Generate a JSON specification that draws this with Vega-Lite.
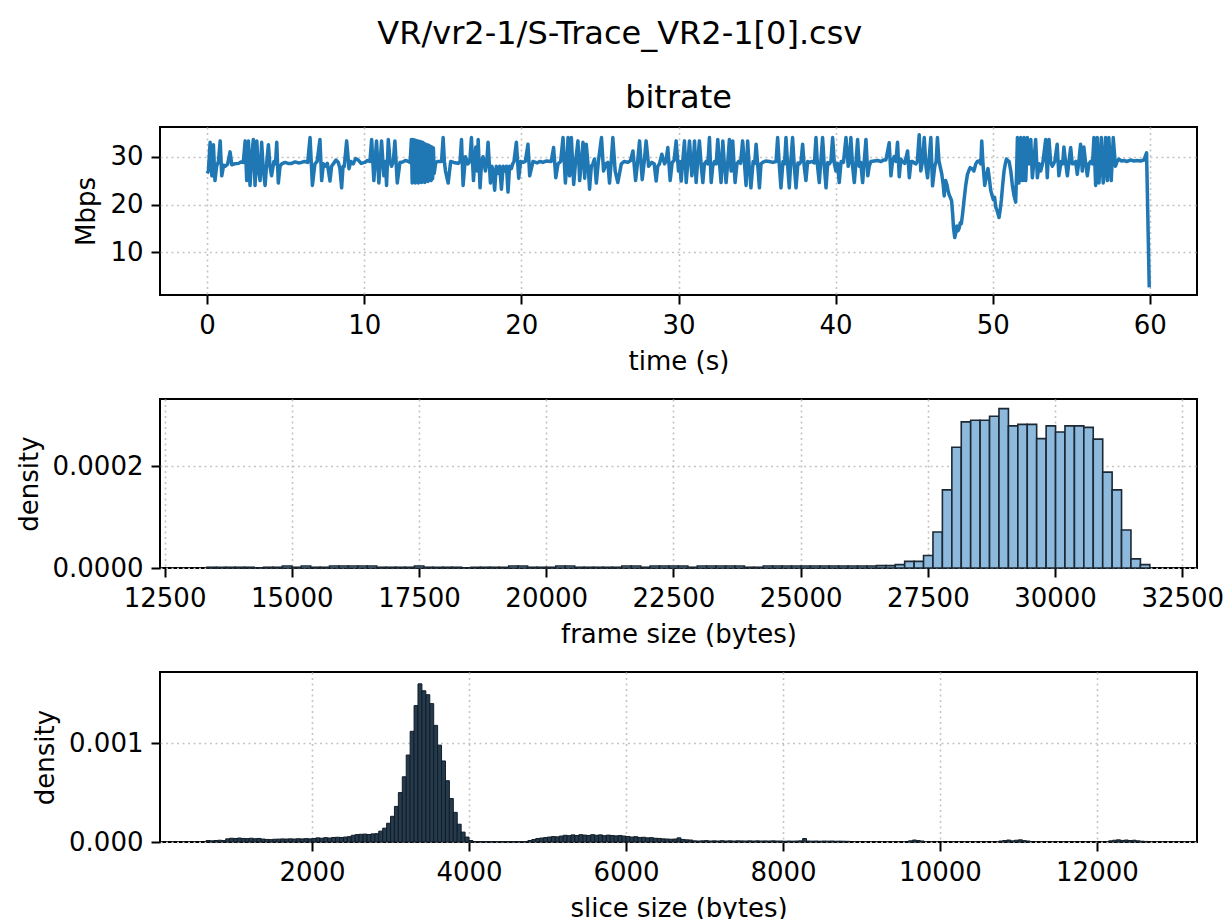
{
 "$schema": "https://vega.github.io/schema/vega-lite/v6.json",
 "title": {"text": "VR/vr2-1/S-Trace_VR2-1[0].csv", "anchor": "middle", "fontSize": 32, "offset": 30},
 "padding": {"left": 15, "top": 18, "right": 23, "bottom": 5},
 "bounds": "flush",
 "spacing": 104,
 "config": {
  "font": "DejaVu Sans",
  "view": {"stroke": "#000", "strokeWidth": 2},
  "axis": {"domain": false, "grid": true, "gridColor": "#c4c4c4", "gridDash": [2, 3.5], "gridWidth": 1.6, "tickColor": "#000", "tickSize": 9, "tickWidth": 2, "labelFont": "DejaVu Sans", "labelFontSize": 26, "labelColor": "#000", "labelPadding": 8, "titleFont": "DejaVu Sans", "titleFontSize": 26, "titleFontWeight": "normal", "titleColor": "#000", "titlePadding": 10, "labelOverlap": false, "labelFlush": false, "labelBound": false},
  "title": {"font": "DejaVu Sans", "fontSize": 32, "fontWeight": "normal", "color": "#000"}
 },
 "datasets": {
  "bitrate": [
   {"t":0,"v":26.5},{"t":0.08,"v":27},{"t":0.19,"v":33},{"t":0.3,"v":26},{"t":0.4,"v":32.5},{"t":0.5,"v":25},{"t":0.6,"v":28},{"t":0.72,"v":29},{"t":0.83,"v":33.3},{"t":0.93,"v":26},{"t":1.05,"v":28.2},{"t":1.14,"v":28},{"t":1.3,"v":28.4},{"t":1.46,"v":31},{"t":1.57,"v":28.3},{"t":1.75,"v":28.5},{"t":2.0,"v":28.6},{"t":2.15,"v":28.9},{"t":2.3,"v":28.8},{"t":2.42,"v":33.3},{"t":2.52,"v":25},{"t":2.63,"v":33.3},{"t":2.73,"v":24},{"t":2.84,"v":30},{"t":2.94,"v":33.6},{"t":3.05,"v":24},{"t":3.16,"v":33.3},{"t":3.27,"v":27},{"t":3.37,"v":25},{"t":3.47,"v":33},{"t":3.58,"v":27},{"t":3.69,"v":24},{"t":3.8,"v":29},{"t":3.9,"v":32.5},{"t":4.0,"v":28},{"t":4.1,"v":26},{"t":4.25,"v":29},{"t":4.35,"v":28.5},{"t":4.43,"v":33},{"t":4.53,"v":24.5},{"t":4.64,"v":28},{"t":4.75,"v":28.5},{"t":4.96,"v":28.8},{"t":5.15,"v":28.6},{"t":5.38,"v":28.6},{"t":5.6,"v":28.9},{"t":5.8,"v":28.7},{"t":6.0,"v":28.8},{"t":6.2,"v":29},{"t":6.4,"v":28.8},{"t":6.55,"v":34},{"t":6.7,"v":24},{"t":6.86,"v":28.5},{"t":7.0,"v":29},{"t":7.18,"v":33.6},{"t":7.29,"v":25},{"t":7.4,"v":28.5},{"t":7.5,"v":28},{"t":7.65,"v":28.6},{"t":7.82,"v":24.9},{"t":7.92,"v":28},{"t":8.03,"v":28.5},{"t":8.2,"v":29.3},{"t":8.35,"v":28.8},{"t":8.45,"v":27.5},{"t":8.56,"v":23.5},{"t":8.65,"v":28},{"t":8.73,"v":28},{"t":8.88,"v":33.3},{"t":9.03,"v":27.5},{"t":9.15,"v":29},{"t":9.3,"v":28.5},{"t":9.45,"v":29.6},{"t":9.62,"v":29.3},{"t":9.8,"v":28.6},{"t":10.04,"v":28.8},{"t":10.2,"v":29.2},{"t":10.36,"v":29},{"t":10.47,"v":33.6},{"t":10.61,"v":25},{"t":10.78,"v":33.3},{"t":10.93,"v":24.5},{"t":11.02,"v":29},{"t":11.1,"v":33.3},{"t":11.25,"v":26},{"t":11.35,"v":29},{"t":11.42,"v":24},{"t":11.53,"v":33.6},{"t":11.64,"v":29},{"t":11.74,"v":28},{"t":11.85,"v":29},{"t":11.95,"v":33.3},{"t":12.1,"v":24.5},{"t":12.27,"v":28.8},{"t":12.45,"v":28.9},{"t":12.62,"v":29.2},{"t":12.8,"v":29},{"t":12.92,"v":28.8},
   {"t":13.0,"v":33.6},{"t":13.05,"v":24.5},{"t":13.1,"v":33.6},{"t":13.15,"v":24.8},{"t":13.2,"v":33.5},{"t":13.25,"v":24.5},{"t":13.3,"v":33.4},{"t":13.35,"v":24.8},{"t":13.4,"v":33.3},{"t":13.45,"v":24.5},{"t":13.5,"v":33.2},{"t":13.55,"v":24.7},{"t":13.6,"v":33.1},{"t":13.65,"v":24.6},{"t":13.7,"v":33.0},{"t":13.75,"v":24.8},{"t":13.8,"v":32.8},{"t":13.85,"v":24.6},{"t":13.9,"v":32.6},{"t":13.95,"v":25.0},{"t":14.0,"v":32.5},{"t":14.05,"v":24.8},{"t":14.1,"v":32.4},{"t":14.15,"v":25.2},{"t":14.2,"v":32.2},{"t":14.25,"v":25.0},{"t":14.3,"v":32.0},{"t":14.35,"v":25.4},{"t":14.4,"v":31.8},{"t":14.45,"v":26.5},{"t":14.55,"v":28.8},
   {"t":14.7,"v":29},{"t":14.92,"v":29},{"t":15.02,"v":34},{"t":15.1,"v":29},{"t":15.17,"v":27},{"t":15.34,"v":24.5},{"t":15.5,"v":29},{"t":15.7,"v":28.8},{"t":15.97,"v":28.6},{"t":16.1,"v":29},{"t":16.19,"v":33.6},{"t":16.29,"v":24},{"t":16.44,"v":30},{"t":16.6,"v":28.5},{"t":16.72,"v":29},{"t":16.82,"v":34},{"t":16.95,"v":25},{"t":17.1,"v":32},{"t":17.2,"v":27},{"t":17.25,"v":33.6},{"t":17.37,"v":23.5},{"t":17.47,"v":29},{"t":17.56,"v":30},{"t":17.71,"v":27},{"t":17.8,"v":29},{"t":17.88,"v":33},{"t":18.03,"v":24.5},{"t":18.12,"v":28},{"t":18.2,"v":27},{"t":18.3,"v":23},{"t":18.4,"v":28},{"t":18.5,"v":26.5},{"t":18.62,"v":28},{"t":18.73,"v":23.2},{"t":18.84,"v":28},{"t":18.94,"v":27},{"t":19.05,"v":28},{"t":19.15,"v":22.6},{"t":19.25,"v":28},{"t":19.36,"v":27.5},{"t":19.45,"v":28.5},{"t":19.53,"v":29},{"t":19.68,"v":33},{"t":19.83,"v":25.5},{"t":19.95,"v":29},{"t":20.1,"v":28.8},{"t":20.25,"v":29},{"t":20.42,"v":32.6},{"t":20.53,"v":26},{"t":20.74,"v":29},{"t":21.0,"v":28.7},{"t":21.2,"v":29},{"t":21.37,"v":28.8},{"t":21.6,"v":29.1},{"t":21.9,"v":29},{"t":22.05,"v":31.9},{"t":22.19,"v":25.6},{"t":22.33,"v":28.5},{"t":22.5,"v":29},{"t":22.65,"v":34},{"t":22.8,"v":24.5},{"t":22.9,"v":29},{"t":22.97,"v":34},{"t":23.07,"v":26},{"t":23.18,"v":34},{"t":23.33,"v":24.2},{"t":23.45,"v":29},{"t":23.6,"v":33.3},{"t":23.71,"v":25},{"t":23.82,"v":29},{"t":23.92,"v":33},{"t":24.03,"v":25.5},{"t":24.13,"v":32.6},{"t":24.25,"v":28},{"t":24.34,"v":23.2},{"t":24.45,"v":28},{"t":24.55,"v":28.5},{"t":24.65,"v":29.5},{"t":24.77,"v":24.5},{"t":24.9,"v":29},{"t":25.1,"v":34},{"t":25.23,"v":27},{"t":25.4,"v":28.6},{"t":25.5,"v":28.8},{"t":25.61,"v":24.5},{"t":25.72,"v":29},{"t":25.82,"v":34},{"t":25.97,"v":27},{"t":26.14,"v":24.6},{"t":26.36,"v":28.5},{"t":26.55,"v":29},{"t":26.78,"v":28.8},{"t":26.95,"v":29.2},{"t":27.1,"v":31.2},{"t":27.27,"v":25},{"t":27.4,"v":29},{"t":27.52,"v":33.3},{"t":27.69,"v":25.2},{"t":27.82,"v":29},{"t":27.94,"v":33.3},{"t":28.1,"v":28},{"t":28.3,"v":28.8},{"t":28.45,"v":28.5},{"t":28.58,"v":24.9},{"t":28.68,"v":28},{"t":28.79,"v":28.5},{"t":28.94,"v":30.5},{"t":29.11,"v":28.5},{"t":29.2,"v":29},{"t":29.32,"v":31.9},{"t":29.47,"v":25},{"t":29.6,"v":28.8},{"t":29.72,"v":29.2},{"t":29.85,"v":33.3},{"t":30.0,"v":27},{"t":30.08,"v":29},{"t":30.17,"v":24.9},{"t":30.27,"v":29},{"t":30.38,"v":33.3},{"t":30.49,"v":24.6},{"t":30.6,"v":29},{"t":30.7,"v":33.3},{"t":30.85,"v":26},{"t":30.95,"v":29},{"t":31.02,"v":33.3},{"t":31.12,"v":24.6},{"t":31.22,"v":29},{"t":31.33,"v":33.3},{"t":31.45,"v":28},{"t":31.55,"v":24.6},{"t":31.65,"v":28.5},{"t":31.76,"v":29},{"t":31.87,"v":28.5},{"t":31.97,"v":34},{"t":32.08,"v":24.6},{"t":32.18,"v":28},{"t":32.29,"v":29},{"t":32.4,"v":28.5},{"t":32.5,"v":33.6},{"t":32.6,"v":29},{"t":32.71,"v":24.6},{"t":32.82,"v":33.3},{"t":32.93,"v":28},{"t":33.03,"v":24.6},{"t":33.14,"v":29},{"t":33.24,"v":33.6},{"t":33.35,"v":27},{"t":33.45,"v":33.3},{"t":33.6,"v":24.6},{"t":33.72,"v":28.5},{"t":33.83,"v":29},{"t":33.95,"v":28.6},{"t":34.08,"v":33.3},{"t":34.2,"v":28.5},{"t":34.3,"v":24},{"t":34.4,"v":33.3},{"t":34.5,"v":28},{"t":34.61,"v":23.5},{"t":34.75,"v":29},{"t":34.85,"v":28.6},{"t":34.94,"v":32.6},{"t":35.05,"v":28},{"t":35.15,"v":23.5},{"t":35.25,"v":28.5},{"t":35.36,"v":28.8},{"t":35.55,"v":29.1},{"t":35.78,"v":29},{"t":36.0,"v":28.8},{"t":36.21,"v":29},{"t":36.31,"v":34},{"t":36.42,"v":28},{"t":36.52,"v":23.5},{"t":36.65,"v":29},{"t":36.75,"v":28.5},{"t":36.84,"v":34},{"t":36.95,"v":28},{"t":37.05,"v":23.5},{"t":37.15,"v":29},{"t":37.26,"v":34},{"t":37.37,"v":28},{"t":37.48,"v":23.5},{"t":37.6,"v":28.7},{"t":37.69,"v":28.5},{"t":37.8,"v":29},{"t":37.9,"v":32.6},{"t":38.0,"v":28},{"t":38.11,"v":25},{"t":38.22,"v":29},{"t":38.33,"v":28.8},{"t":38.5,"v":29},{"t":38.65,"v":28.7},{"t":38.75,"v":34},{"t":38.85,"v":28},{"t":38.96,"v":24.6},{"t":39.06,"v":29},{"t":39.17,"v":34},{"t":39.28,"v":28},{"t":39.39,"v":23.5},{"t":39.5,"v":28.8},{"t":39.6,"v":28.5},{"t":39.7,"v":29},{"t":39.81,"v":34},{"t":39.92,"v":28.5},{"t":40.02,"v":27},{"t":40.12,"v":28.6},{"t":40.23,"v":24.6},{"t":40.35,"v":29},{"t":40.5,"v":28.8},{"t":40.66,"v":34},{"t":40.8,"v":28},{"t":40.88,"v":29},{"t":40.97,"v":34},{"t":41.08,"v":28},{"t":41.19,"v":24.6},{"t":41.3,"v":29},{"t":41.4,"v":33.6},{"t":41.5,"v":28},{"t":41.6,"v":28.8},{"t":41.72,"v":24.6},{"t":41.82,"v":29},{"t":41.93,"v":33.6},{"t":42.05,"v":26},{"t":42.14,"v":28},{"t":42.25,"v":29},{"t":42.45,"v":29.1},{"t":42.67,"v":29.2},{"t":42.9,"v":29},{"t":43.05,"v":29.3},{"t":43.2,"v":29.3},{"t":43.41,"v":32.9},{"t":43.52,"v":26},{"t":43.62,"v":29},{"t":43.73,"v":30},{"t":43.84,"v":29},{"t":43.94,"v":33},{"t":44.05,"v":25.8},{"t":44.15,"v":29.5},{"t":44.26,"v":29},{"t":44.4,"v":28.6},{"t":44.58,"v":31.2},{"t":44.69,"v":25.6},{"t":44.8,"v":29},{"t":44.9,"v":29},{"t":45.0,"v":28.7},{"t":45.11,"v":28.5},{"t":45.2,"v":29},{"t":45.32,"v":34.6},{"t":45.42,"v":27},{"t":45.53,"v":29},{"t":45.64,"v":34},{"t":45.75,"v":28},{"t":45.85,"v":25.6},{"t":45.95,"v":29.5},{"t":46.06,"v":34},{"t":46.17,"v":23.9},{"t":46.31,"v":28},{"t":46.4,"v":29},{"t":46.48,"v":34},{"t":46.58,"v":29},{"t":46.65,"v":28},{"t":46.76,"v":26.3},{"t":46.85,"v":24},{"t":46.91,"v":21.8},{"t":47.0,"v":25},{"t":47.08,"v":24.2},{"t":47.15,"v":23},{"t":47.23,"v":22},{"t":47.3,"v":21.5},{"t":47.38,"v":20.8},{"t":47.45,"v":18},{"t":47.5,"v":15.2},{"t":47.58,"v":13.1},{"t":47.64,"v":14},{"t":47.71,"v":15.5},{"t":47.78,"v":14.5},{"t":47.86,"v":15},{"t":47.93,"v":16.2},{"t":48.0,"v":16},{"t":48.08,"v":18},{"t":48.17,"v":20.8},{"t":48.28,"v":24},{"t":48.39,"v":26.3},{"t":48.47,"v":27},{"t":48.56,"v":27.7},{"t":48.63,"v":27.5},{"t":48.71,"v":27.5},{"t":48.8,"v":27},{"t":48.92,"v":28.5},{"t":49.02,"v":29},{"t":49.13,"v":29.1},{"t":49.24,"v":28.5},{"t":49.3,"v":33.3},{"t":49.38,"v":28.5},{"t":49.49,"v":24},{"t":49.6,"v":26},{"t":49.7,"v":27.5},{"t":49.8,"v":25},{"t":49.87,"v":23},{"t":49.95,"v":22},{"t":50.04,"v":21},{"t":50.12,"v":21.5},{"t":50.19,"v":19.5},{"t":50.3,"v":18.5},{"t":50.4,"v":17.3},{"t":50.48,"v":19},{"t":50.55,"v":21},{"t":50.63,"v":24},{"t":50.72,"v":27},{"t":50.8,"v":28.5},{"t":50.87,"v":29.5},{"t":50.95,"v":29.2},{"t":51.04,"v":29},{"t":51.15,"v":27},{"t":51.25,"v":24},{"t":51.35,"v":22},{"t":51.46,"v":20.5},{"t":51.52,"v":27},{"t":51.57,"v":34},{"t":51.62,"v":28},{"t":51.67,"v":24.5},{"t":51.72,"v":29},{"t":51.78,"v":34},{"t":51.83,"v":28},{"t":51.89,"v":25},{"t":51.94,"v":29},{"t":51.99,"v":34},{"t":52.05,"v":28},{"t":52.1,"v":25},{"t":52.15,"v":29},{"t":52.2,"v":34},{"t":52.3,"v":28.5},{"t":52.42,"v":33.6},{"t":52.52,"v":25.6},{"t":52.62,"v":29},{"t":52.73,"v":33.6},{"t":52.84,"v":25.6},{"t":52.95,"v":28.5},{"t":53.05,"v":27},{"t":53.2,"v":29},{"t":53.37,"v":33.6},{"t":53.47,"v":25.6},{"t":53.52,"v":29},{"t":53.58,"v":33.6},{"t":53.68,"v":29},{"t":53.79,"v":28},{"t":53.95,"v":29},{"t":54.1,"v":32.6},{"t":54.21,"v":26},{"t":54.35,"v":29},{"t":54.45,"v":28.5},{"t":54.53,"v":32},{"t":54.65,"v":28.5},{"t":54.75,"v":26},{"t":54.85,"v":29},{"t":54.96,"v":31.9},{"t":55.06,"v":28.5},{"t":55.17,"v":28.5},{"t":55.28,"v":29},{"t":55.38,"v":26.3},{"t":55.48,"v":29},{"t":55.59,"v":32.6},{"t":55.7,"v":27},{"t":55.8,"v":32},{"t":55.9,"v":29},{"t":56.02,"v":26},{"t":56.12,"v":28.5},{"t":56.23,"v":29},{"t":56.35,"v":28.5},{"t":56.44,"v":34},{"t":56.55,"v":24},{"t":56.65,"v":34},{"t":56.76,"v":24.5},{"t":56.85,"v":29},{"t":56.91,"v":34},{"t":57.03,"v":24.5},{"t":57.12,"v":29},{"t":57.18,"v":34},{"t":57.29,"v":25},{"t":57.35,"v":29},{"t":57.39,"v":34},{"t":57.54,"v":25},{"t":57.6,"v":29},{"t":57.67,"v":34},{"t":57.81,"v":28},{"t":57.92,"v":29},{"t":58.03,"v":29.5},{"t":58.2,"v":29.1},{"t":58.35,"v":29.2},{"t":58.55,"v":29},{"t":58.77,"v":29.3},{"t":59.0,"v":29.1},{"t":59.19,"v":29.2},{"t":59.4,"v":29.1},{"t":59.62,"v":29.3},{"t":59.79,"v":30.8},{"t":59.96,"v":2.7}
  ],
  "frame": [
   {"s":13333,"e":13518,"d":1.5e-6},{"s":13518,"e":13704,"d":1.5e-6},{"s":13704,"e":13889,"d":1.5e-6},{"s":13889,"e":14074,"d":1.5e-6},{"s":14074,"e":14260,"d":1.5e-6},{"s":14260,"e":14445,"d":0},{"s":14445,"e":14630,"d":1.5e-6},{"s":14630,"e":14815,"d":1.5e-6},{"s":14815,"e":15001,"d":4e-6},{"s":15001,"e":15186,"d":1.5e-6},{"s":15186,"e":15371,"d":4e-6},{"s":15371,"e":15557,"d":1.5e-6},{"s":15557,"e":15742,"d":1.5e-6},{"s":15742,"e":15927,"d":4e-6},{"s":15927,"e":16113,"d":4e-6},{"s":16113,"e":16298,"d":4e-6},{"s":16298,"e":16483,"d":4e-6},{"s":16483,"e":16668,"d":4e-6},{"s":16668,"e":16854,"d":1.5e-6},{"s":16854,"e":17039,"d":1.5e-6},{"s":17039,"e":17224,"d":1.5e-6},{"s":17224,"e":17410,"d":1.5e-6},{"s":17410,"e":17595,"d":4e-6},{"s":17595,"e":17780,"d":1.5e-6},{"s":17780,"e":17966,"d":1.5e-6},{"s":17966,"e":18151,"d":1.5e-6},{"s":18151,"e":18336,"d":1.5e-6},{"s":18336,"e":18521,"d":0},{"s":18521,"e":18707,"d":1.5e-6},{"s":18707,"e":18892,"d":1.5e-6},{"s":18892,"e":19077,"d":1.5e-6},{"s":19077,"e":19263,"d":1.5e-6},{"s":19263,"e":19448,"d":4e-6},{"s":19448,"e":19633,"d":4e-6},{"s":19633,"e":19819,"d":1.5e-6},{"s":19819,"e":20004,"d":1.5e-6},{"s":20004,"e":20189,"d":1.5e-6},{"s":20189,"e":20374,"d":4e-6},{"s":20374,"e":20560,"d":4e-6},{"s":20560,"e":20745,"d":1.5e-6},{"s":20745,"e":20930,"d":1.5e-6},{"s":20930,"e":21116,"d":1.5e-6},{"s":21116,"e":21301,"d":1.5e-6},{"s":21301,"e":21486,"d":1.5e-6},{"s":21486,"e":21672,"d":4e-6},{"s":21672,"e":21857,"d":4e-6},{"s":21857,"e":22042,"d":1.5e-6},{"s":22042,"e":22227,"d":4e-6},{"s":22227,"e":22413,"d":4e-6},{"s":22413,"e":22598,"d":4e-6},{"s":22598,"e":22783,"d":4e-6},{"s":22783,"e":22969,"d":1.5e-6},{"s":22969,"e":23154,"d":4e-6},{"s":23154,"e":23339,"d":4e-6},{"s":23339,"e":23525,"d":4e-6},{"s":23525,"e":23710,"d":4e-6},{"s":23710,"e":23895,"d":4e-6},{"s":23895,"e":24080,"d":1.5e-6},{"s":24080,"e":24266,"d":1.5e-6},{"s":24266,"e":24451,"d":4e-6},{"s":24451,"e":24636,"d":4e-6},{"s":24636,"e":24822,"d":4e-6},{"s":24822,"e":25007,"d":4e-6},{"s":25007,"e":25192,"d":4e-6},{"s":25192,"e":25378,"d":4e-6},{"s":25378,"e":25563,"d":4e-6},{"s":25563,"e":25748,"d":4e-6},{"s":25748,"e":25933,"d":4e-6},{"s":25933,"e":26119,"d":4e-6},{"s":26119,"e":26304,"d":4e-6},{"s":26304,"e":26489,"d":4e-6},{"s":26489,"e":26675,"d":4.6e-6},{"s":26675,"e":26860,"d":4.6e-6},{"s":26860,"e":27045,"d":6.6e-6},{"s":27045,"e":27231,"d":1.3e-5},{"s":27231,"e":27416,"d":1.3e-5},{"s":27416,"e":27601,"d":2.45e-5},{"s":27601,"e":27786,"d":7.1e-5},{"s":27786,"e":27972,"d":1.54e-4},{"s":27972,"e":28157,"d":2.38e-4},{"s":28157,"e":28342,"d":2.88e-4},{"s":28342,"e":28528,"d":2.91e-4},{"s":28528,"e":28713,"d":2.91e-4},{"s":28713,"e":28898,"d":2.99e-4},{"s":28898,"e":29084,"d":3.14e-4},{"s":29084,"e":29269,"d":2.8e-4},{"s":29269,"e":29454,"d":2.83e-4},{"s":29454,"e":29639,"d":2.83e-4},{"s":29639,"e":29825,"d":2.55e-4},{"s":29825,"e":30010,"d":2.8e-4},{"s":30010,"e":30195,"d":2.68e-4},{"s":30195,"e":30381,"d":2.8e-4},{"s":30381,"e":30566,"d":2.8e-4},{"s":30566,"e":30751,"d":2.77e-4},{"s":30751,"e":30937,"d":2.54e-4},{"s":30937,"e":31122,"d":1.89e-4},{"s":31122,"e":31307,"d":1.54e-4},{"s":31307,"e":31492,"d":7.5e-5},{"s":31492,"e":31678,"d":1.8e-5},{"s":31678,"e":31863,"d":6.6e-6}
  ],
  "slice": [
   {"s":650,"e":700,"d":1.5e-5},{"s":700,"e":750,"d":1.2e-5},{"s":750,"e":800,"d":1.5e-5},{"s":800,"e":850,"d":1.8e-5},{"s":850,"e":900,"d":1.5e-5},{"s":900,"e":950,"d":3.2e-5},{"s":950,"e":1000,"d":3.8e-5},{"s":1000,"e":1050,"d":3.5e-5},{"s":1050,"e":1100,"d":4.0e-5},{"s":1100,"e":1150,"d":3.6e-5},{"s":1150,"e":1200,"d":3.4e-5},{"s":1200,"e":1250,"d":3.8e-5},{"s":1250,"e":1300,"d":3.3e-5},{"s":1300,"e":1350,"d":3.6e-5},{"s":1350,"e":1400,"d":3.0e-5},{"s":1400,"e":1450,"d":2.6e-5},{"s":1450,"e":1500,"d":2.4e-5},{"s":1500,"e":1550,"d":2.8e-5},{"s":1550,"e":1600,"d":2.9e-5},{"s":1600,"e":1650,"d":3.1e-5},{"s":1650,"e":1700,"d":3.0e-5},{"s":1700,"e":1750,"d":3.2e-5},{"s":1750,"e":1800,"d":3.0e-5},{"s":1800,"e":1850,"d":3.3e-5},{"s":1850,"e":1900,"d":3.1e-5},{"s":1900,"e":1950,"d":3.4e-5},{"s":1950,"e":2000,"d":3.2e-5},{"s":2000,"e":2050,"d":3.6e-5},{"s":2050,"e":2100,"d":4.2e-5},{"s":2100,"e":2150,"d":3.8e-5},{"s":2150,"e":2200,"d":4.4e-5},{"s":2200,"e":2250,"d":4.0e-5},{"s":2250,"e":2300,"d":4.6e-5},{"s":2300,"e":2350,"d":4.8e-5},{"s":2350,"e":2400,"d":4.5e-5},{"s":2400,"e":2450,"d":5.0e-5},{"s":2450,"e":2500,"d":5.4e-5},{"s":2500,"e":2550,"d":6.8e-5},{"s":2550,"e":2600,"d":7.5e-5},{"s":2600,"e":2650,"d":7.8e-5},{"s":2650,"e":2700,"d":8.0e-5},{"s":2700,"e":2750,"d":7.6e-5},{"s":2750,"e":2800,"d":8.2e-5},{"s":2800,"e":2850,"d":8.4e-5},{"s":2850,"e":2900,"d":1.1e-4},{"s":2900,"e":2950,"d":1.4e-4},{"s":2950,"e":3000,"d":1.9e-4},{"s":3000,"e":3050,"d":2.6e-4},{"s":3050,"e":3100,"d":3.6e-4},{"s":3100,"e":3150,"d":5.0e-4},{"s":3150,"e":3200,"d":6.6e-4},{"s":3200,"e":3250,"d":8.8e-4},{"s":3250,"e":3300,"d":1.12e-3},{"s":3300,"e":3350,"d":1.38e-3},{"s":3350,"e":3400,"d":1.6e-3},{"s":3400,"e":3450,"d":1.53e-3},{"s":3450,"e":3500,"d":1.49e-3},{"s":3500,"e":3550,"d":1.4e-3},{"s":3550,"e":3600,"d":1.18e-3},{"s":3600,"e":3650,"d":9.8e-4},{"s":3650,"e":3700,"d":8.2e-4},{"s":3700,"e":3750,"d":6.2e-4},{"s":3750,"e":3800,"d":4.4e-4},{"s":3800,"e":3850,"d":3.0e-4},{"s":3850,"e":3900,"d":1.8e-4},{"s":3900,"e":3950,"d":1.0e-4},{"s":3950,"e":4000,"d":5.0e-5},{"s":4000,"e":4050,"d":1.5e-5},
   {"s":4050,"e":4100,"d":4e-6},{"s":4100,"e":4150,"d":4e-6},{"s":4150,"e":4200,"d":4e-6},{"s":4200,"e":4250,"d":4e-6},{"s":4250,"e":4300,"d":4e-6},{"s":4300,"e":4350,"d":4e-6},{"s":4350,"e":4400,"d":4e-6},{"s":4400,"e":4450,"d":4e-6},{"s":4450,"e":4500,"d":4e-6},{"s":4500,"e":4550,"d":4e-6},{"s":4550,"e":4600,"d":4e-6},{"s":4600,"e":4650,"d":4e-6},{"s":4650,"e":4700,"d":4e-6},{"s":4700,"e":4750,"d":4e-6},
   {"s":4750,"e":4800,"d":1.5e-5},{"s":4800,"e":4850,"d":2.5e-5},{"s":4850,"e":4900,"d":3.5e-5},{"s":4900,"e":4950,"d":4.0e-5},{"s":4950,"e":5000,"d":4.5e-5},{"s":5000,"e":5050,"d":5.0e-5},{"s":5050,"e":5100,"d":5.5e-5},{"s":5100,"e":5150,"d":5.2e-5},{"s":5150,"e":5200,"d":6.0e-5},{"s":5200,"e":5250,"d":6.8e-5},{"s":5250,"e":5300,"d":6.4e-5},{"s":5300,"e":5350,"d":7.2e-5},{"s":5350,"e":5400,"d":6.6e-5},{"s":5400,"e":5450,"d":7.4e-5},{"s":5450,"e":5500,"d":7.0e-5},{"s":5500,"e":5550,"d":6.6e-5},{"s":5550,"e":5600,"d":7.4e-5},{"s":5600,"e":5650,"d":6.8e-5},{"s":5650,"e":5700,"d":7.2e-5},{"s":5700,"e":5750,"d":6.4e-5},{"s":5750,"e":5800,"d":7.0e-5},{"s":5800,"e":5850,"d":6.6e-5},{"s":5850,"e":5900,"d":6.2e-5},{"s":5900,"e":5950,"d":6.6e-5},{"s":5950,"e":6000,"d":6.0e-5},{"s":6000,"e":6050,"d":5.6e-5},{"s":6050,"e":6100,"d":5.0e-5},{"s":6100,"e":6150,"d":5.4e-5},{"s":6150,"e":6200,"d":4.6e-5},{"s":6200,"e":6250,"d":4.8e-5},{"s":6250,"e":6300,"d":4.2e-5},{"s":6300,"e":6350,"d":4.4e-5},{"s":6350,"e":6400,"d":3.8e-5},{"s":6400,"e":6450,"d":3.6e-5},{"s":6450,"e":6500,"d":3.2e-5},{"s":6500,"e":6550,"d":3.0e-5},{"s":6550,"e":6600,"d":2.8e-5},{"s":6600,"e":6650,"d":3.0e-5},{"s":6650,"e":6700,"d":4.2e-5},{"s":6700,"e":6750,"d":2.6e-5},{"s":6750,"e":6800,"d":2.2e-5},{"s":6800,"e":6850,"d":2.0e-5},
   {"s":6850,"e":6900,"d":1.2e-5},{"s":6900,"e":6950,"d":1.0e-5},{"s":6950,"e":7000,"d":1.2e-5},{"s":7000,"e":7050,"d":1.4e-5},{"s":7050,"e":7100,"d":1.0e-5},{"s":7100,"e":7150,"d":1.2e-5},{"s":7150,"e":7200,"d":1.0e-5},{"s":7200,"e":7250,"d":1.3e-5},{"s":7250,"e":7300,"d":1.0e-5},{"s":7300,"e":7350,"d":1.2e-5},{"s":7350,"e":7400,"d":1.0e-5},{"s":7400,"e":7450,"d":1.2e-5},{"s":7450,"e":7500,"d":1.1e-5},{"s":7500,"e":7550,"d":1.0e-5},{"s":7550,"e":7600,"d":1.2e-5},{"s":7600,"e":7650,"d":1.0e-5},{"s":7650,"e":7700,"d":1.2e-5},{"s":7700,"e":7750,"d":1.0e-5},{"s":7750,"e":7800,"d":1.1e-5},{"s":7800,"e":7850,"d":1.0e-5},{"s":7850,"e":7900,"d":1.2e-5},{"s":7900,"e":7950,"d":1.0e-5},
   {"s":7950,"e":8000,"d":1.0e-5},{"s":8000,"e":8050,"d":8e-6},{"s":8050,"e":8100,"d":1.0e-5},{"s":8100,"e":8150,"d":9e-6},{"s":8150,"e":8200,"d":1.0e-5},{"s":8200,"e":8250,"d":1.2e-5},{"s":8250,"e":8300,"d":3.5e-5},{"s":8300,"e":8350,"d":1.0e-5},{"s":8350,"e":8400,"d":9e-6},{"s":8400,"e":8450,"d":1.0e-5},{"s":8450,"e":8500,"d":8e-6},{"s":8500,"e":8550,"d":1.0e-5},{"s":8550,"e":8600,"d":9e-6},{"s":8600,"e":8650,"d":1.0e-5},{"s":8650,"e":8700,"d":8e-6},{"s":8700,"e":8750,"d":9e-6},{"s":8750,"e":8800,"d":8e-6},{"s":8800,"e":8850,"d":7e-6},
   {"s":9600,"e":9650,"d":1.2e-5},{"s":9650,"e":9700,"d":2.0e-5},{"s":9700,"e":9750,"d":1.5e-5},{"s":9750,"e":9800,"d":1.0e-5},
   {"s":10750,"e":10800,"d":1.0e-5},{"s":10800,"e":10850,"d":1.5e-5},{"s":10850,"e":10900,"d":2.0e-5},{"s":10900,"e":10950,"d":1.2e-5},{"s":10950,"e":11000,"d":1.8e-5},{"s":11000,"e":11050,"d":2.2e-5},{"s":11050,"e":11100,"d":1.4e-5},{"s":11100,"e":11150,"d":1.0e-5},
   {"s":12150,"e":12200,"d":1.2e-5},{"s":12200,"e":12250,"d":1.8e-5},{"s":12250,"e":12300,"d":2.2e-5},{"s":12300,"e":12350,"d":1.6e-5},{"s":12350,"e":12400,"d":2.0e-5},{"s":12400,"e":12450,"d":1.5e-5},{"s":12450,"e":12500,"d":1.8e-5},{"s":12500,"e":12550,"d":1.2e-5},{"s":12550,"e":12600,"d":8e-6},{"s":12600,"e":12650,"d":6e-6}
  ]
 },
 "vconcat": [
  {
   "width": 1037, "height": 168,
   "title": {"text": "bitrate", "fontSize": 32, "offset": 12},
   "data": {"name": "bitrate"},
   "mark": {"type": "line", "color": "#1f77b4", "strokeWidth": 3.5, "strokeJoin": "round"},
   "encoding": {
    "x": {"field": "t", "type": "quantitative", "scale": {"domain": [-3, 63], "nice": false, "zero": false}, "axis": {"values": [0, 10, 20, 30, 40, 50, 60], "title": "time (s)"}},
    "y": {"field": "v", "type": "quantitative", "scale": {"domain": [1.1, 36.2], "nice": false, "zero": false}, "axis": {"values": [10, 20, 30], "title": "Mbps"}}
   }
  },
  {
   "width": 1037, "height": 169,
   "data": {"name": "frame"},
   "mark": {"type": "bar", "fill": "#8cb9dc", "stroke": "#1c2833", "strokeWidth": 1.6},
   "encoding": {
    "x": {"field": "s", "type": "quantitative", "scale": {"domain": [12410, 32790], "nice": false, "zero": false}, "axis": {"values": [12500, 15000, 17500, 20000, 22500, 25000, 27500, 30000, 32500], "format": "d", "title": "frame size (bytes)"}},
    "x2": {"field": "e"},
    "y": {"field": "d", "type": "quantitative", "scale": {"domain": [0, 0.000333], "nice": false}, "axis": {"values": [0, 0.0002], "format": ".4f", "title": "density"}},
    "y2": {"datum": 0}
   }
  },
  {
   "width": 1037, "height": 170,
   "data": {"name": "slice"},
   "mark": {"type": "bar", "fill": "#243a4d", "stroke": "#121c26", "strokeWidth": 1},
   "encoding": {
    "x": {"field": "s", "type": "quantitative", "scale": {"domain": [63, 13275], "nice": false, "zero": false}, "axis": {"values": [2000, 4000, 6000, 8000, 10000, 12000], "format": "d", "title": "slice size (bytes)"}},
    "x2": {"field": "e"},
    "y": {"field": "d", "type": "quantitative", "scale": {"domain": [0, 0.00172], "nice": false}, "axis": {"values": [0, 0.001], "format": ".3f", "title": "density"}},
    "y2": {"datum": 0}
   }
  }
 ]
}
